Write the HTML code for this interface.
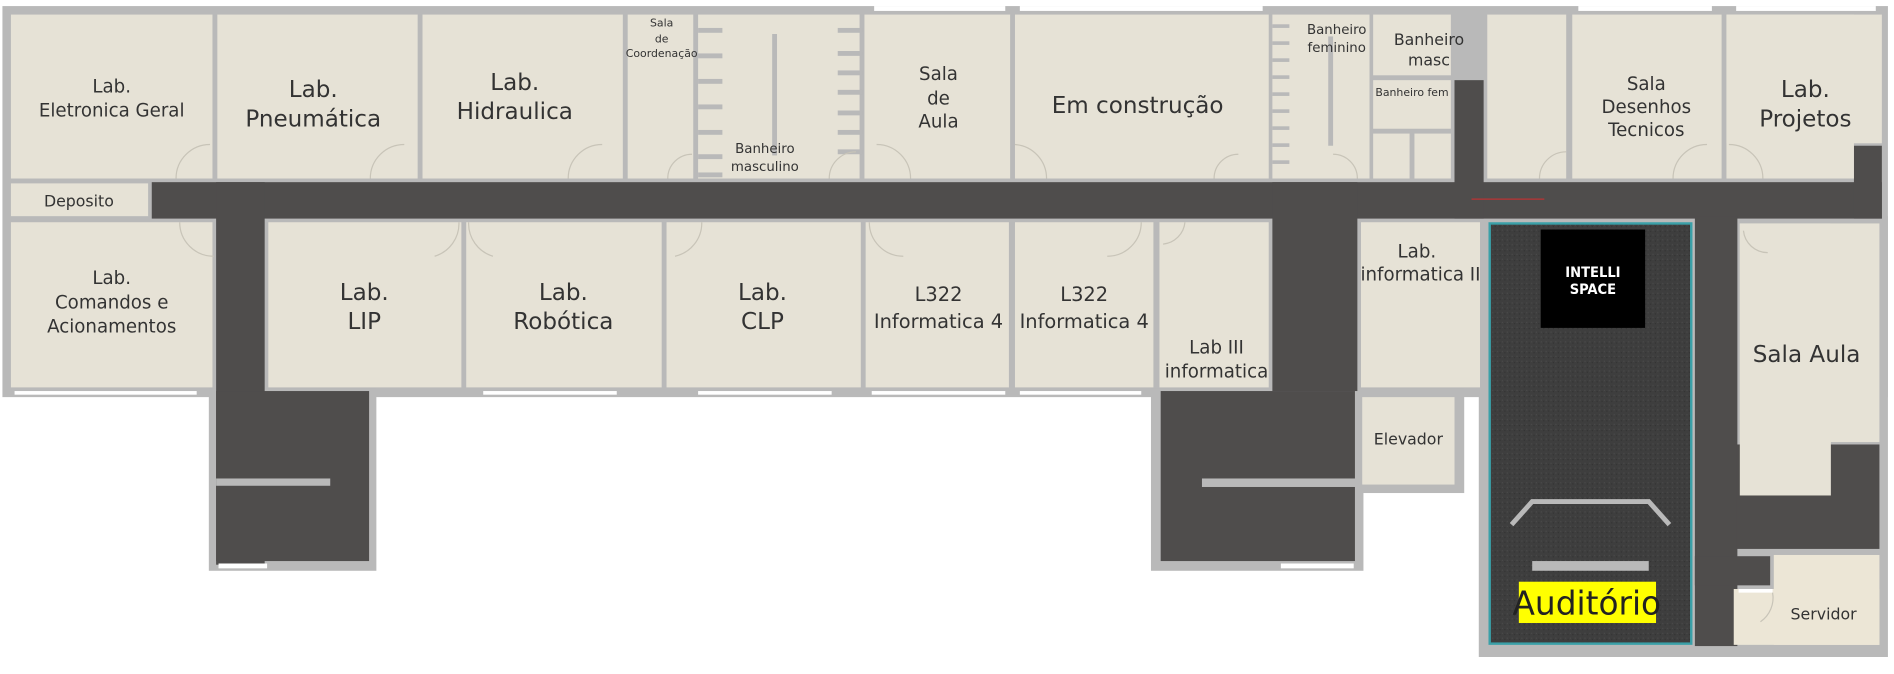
<!DOCTYPE html>
<html><head><meta charset="utf-8"><style>
html,body{margin:0;padding:0;background:#fff;width:1894px;height:674px;overflow:hidden}
svg{display:block}
text{font-family:"DejaVu Sans","Liberation Sans",sans-serif;fill:#333;text-anchor:middle}
</style></head><body>
<svg width="1894" height="674" viewBox="0 0 1560 555" preserveAspectRatio="none" xmlns="http://www.w3.org/2000/svg">
<defs>
<pattern id="carpet" width="4" height="4" patternUnits="userSpaceOnUse">
<rect width="4" height="4" fill="#3e3e3e"/><rect x="1" y="1" width="1" height="1" fill="#4a4a4a"/><rect x="3" y="2" width="1" height="1" fill="#333"/>
</pattern>
</defs>
<g fill="#b9b9b9">
<rect x="2" y="5" width="1553" height="322"/>
<rect x="172" y="320" width="138" height="150"/>
<rect x="948" y="320" width="175" height="150"/>
<rect x="1116" y="320" width="90" height="86"/>
<rect x="1218" y="178" width="337" height="363"/>
</g>
<g fill="#4f4d4c">
<rect x="125" y="150" width="1425" height="30"/>
<rect x="178" y="150" width="40" height="315"/>
<rect x="178" y="322" width="126" height="140"/>
<rect x="1048" y="150" width="70" height="172"/>
<rect x="956" y="322" width="160" height="140"/>
<rect x="1198" y="66" width="24" height="114"/>
<rect x="1527" y="120" width="23" height="60"/>
<rect x="1396" y="178" width="35" height="354"/>
<rect x="1430" y="366" width="118" height="86"/>
<rect x="1396" y="458" width="62" height="24"/>
</g>
<g fill="#e6e2d6">
<rect x="9" y="12" width="166" height="135"/>
<rect x="179" y="12" width="165" height="135"/>
<rect x="348" y="12" width="165" height="135"/>
<rect x="517" y="12" width="54" height="135"/>
<rect x="575" y="12" width="133" height="135"/>
<rect x="712" y="12" width="120" height="135"/>
<rect x="836" y="12" width="209" height="135"/>
<rect x="1048" y="12" width="80" height="135"/>
<rect x="1131" y="12" width="64" height="50"/>
<rect x="1131" y="66" width="64" height="40"/>
<rect x="1131" y="110" width="30" height="37"/>
<rect x="1165" y="110" width="30" height="37"/>
<rect x="1225" y="12" width="65" height="135"/>
<rect x="1295" y="12" width="123" height="135"/>
<rect x="1422" y="12" width="105" height="135"/>
<rect x="1422" y="12" width="128" height="106"/>
<rect x="9" y="151" width="113" height="27"/>
<rect x="9" y="183" width="166" height="136"/>
<rect x="221" y="183" width="159" height="136"/>
<rect x="384" y="183" width="161" height="136"/>
<rect x="549" y="183" width="160" height="136"/>
<rect x="713" y="183" width="118" height="136"/>
<rect x="836" y="183" width="114" height="136"/>
<rect x="955" y="183" width="90" height="136"/>
<rect x="1121" y="183" width="98" height="136"/>
<rect x="1122" y="327" width="76" height="72"/>
<rect x="1433" y="184" width="115" height="180"/>
<rect x="1433" y="184" width="75" height="224"/>
<rect x="1461" y="457" width="87" height="74" fill="#ece6d6"/>
<rect x="1428" y="485" width="120" height="46" fill="#ece6d6"/>
</g>
<g fill="#fff">
<rect x="720" y="5" width="108" height="4"/><rect x="840" y="5" width="200" height="4"/>
<rect x="1300" y="5" width="110" height="4"/><rect x="1430" y="5" width="115" height="4"/>
<rect x="12" y="322" width="150" height="3"/><rect x="398" y="322" width="110" height="3"/>
<rect x="575" y="322" width="110" height="3"/><rect x="718" y="322" width="110" height="3"/>
<rect x="840" y="322" width="100" height="3"/><rect x="180" y="464" width="40" height="4"/>
<rect x="1055" y="464" width="60" height="4"/>
<rect x="1432" y="485" width="28" height="3"/>
</g>
<g fill="#b9b9b9">
<rect x="178" y="394" width="94" height="6"/>
<rect x="990" y="394" width="128" height="7"/>
<rect x="636" y="28" width="4" height="100"/>
<rect x="1094" y="30" width="4" height="90"/>
</g>
<g fill="#b9b9b9">
<rect x="575" y="23" width="20" height="4"/><rect x="575" y="44" width="20" height="4"/><rect x="575" y="65" width="20" height="4"/><rect x="575" y="86" width="20" height="4"/><rect x="575" y="107" width="20" height="4"/><rect x="575" y="127" width="20" height="4"/><rect x="575" y="142" width="20" height="4"/>
<rect x="690" y="23" width="20" height="4"/><rect x="690" y="42" width="20" height="4"/><rect x="690" y="58" width="20" height="4"/><rect x="690" y="74" width="20" height="4"/><rect x="690" y="91" width="20" height="4"/><rect x="690" y="107" width="20" height="4"/><rect x="690" y="123" width="20" height="4"/>
<rect x="1048" y="20" width="14" height="3"/><rect x="1048" y="34" width="14" height="3"/><rect x="1048" y="48" width="14" height="3"/><rect x="1048" y="62" width="14" height="3"/><rect x="1048" y="76" width="14" height="3"/><rect x="1048" y="90" width="14" height="3"/><rect x="1048" y="104" width="14" height="3"/><rect x="1048" y="118" width="14" height="3"/><rect x="1048" y="132" width="14" height="3"/>
</g>
<g fill="none" stroke="#c8c4b8" stroke-width="1">
<path d="M145 147 A28 28 0 0 1 173 119"/><path d="M305 147 A28 28 0 0 1 333 119"/><path d="M468 147 A28 28 0 0 1 496 119"/>
<path d="M550 147 A20 20 0 0 1 570 127"/><path d="M683 147 A22 22 0 0 1 705 125"/><path d="M750 147 A28 28 0 0 0 722 119"/>
<path d="M862 147 A28 28 0 0 0 836 119"/><path d="M1000 147 A20 20 0 0 1 1020 127"/><path d="M1118 147 A20 20 0 0 0 1098 127"/>
<path d="M1268 147 A22 22 0 0 1 1290 125"/><path d="M1378 147 A28 28 0 0 1 1406 119"/><path d="M1452 147 A28 28 0 0 0 1424 119"/>
<path d="M148 183 A28 28 0 0 0 176 211"/><path d="M378 183 A28 28 0 0 1 358 211"/><path d="M386 183 A28 28 0 0 0 406 211"/>
<path d="M578 183 A28 28 0 0 1 556 211"/><path d="M716 183 A28 28 0 0 0 744 211"/><path d="M940 183 A28 28 0 0 1 912 211"/>
<path d="M976 183 A20 20 0 0 1 958 201"/><path d="M1436 190 A20 20 0 0 0 1456 208"/><path d="M1460 488 A24 24 0 0 1 1450 512"/>
</g>
<line x1="1212" y1="164" x2="1272" y2="164" stroke="#b33" stroke-width="1"/>
<rect x="1227" y="184" width="166" height="346" fill="url(#carpet)" stroke="#3aa0a8" stroke-width="2"/>
<rect x="1269" y="189" width="86" height="81" fill="#000"/>
<text x="1312" y="228" style="fill:#fff;font-weight:bold;font-size:12px;font-family:'DejaVu Sans Condensed','DejaVu Sans',sans-serif">INTELLI</text>
<text x="1312" y="242" style="fill:#fff;font-weight:bold;font-size:12px;font-family:'DejaVu Sans Condensed','DejaVu Sans',sans-serif">SPACE</text>
<polyline points="1245,432 1262,413 1358,413 1375,432" fill="none" stroke="#b9b9b9" stroke-width="4"/>
<rect x="1262" y="462" width="96" height="8" fill="#b9b9b9"/>
<rect x="1251" y="479" width="113" height="34" fill="#ffff00"/>
<text x="1307" y="506" style="font-size:27px;fill:#222">Auditório</text>
<g style="font-size:15px">
<text x="92" y="76">Lab.</text><text x="92" y="96">Eletronica Geral</text>
<text x="92" y="234">Lab.</text><text x="92" y="254">Comandos e</text><text x="92" y="274">Acionamentos</text>
<text x="773" y="66">Sala</text><text x="773" y="86">de</text><text x="773" y="105">Aula</text>
<text x="1356" y="74">Sala</text><text x="1356" y="93">Desenhos</text><text x="1356" y="112">Tecnicos</text>
<text x="1167" y="212">Lab.</text><text x="1170" y="231">informatica II</text>
<text x="1002" y="291">Lab III</text><text x="1002" y="311">informatica</text>
</g>
<g style="font-size:19px">
<text x="258" y="80">Lab.</text><text x="258" y="104">Pneumática</text>
<text x="424" y="74">Lab.</text><text x="424" y="98">Hidraulica</text>
<text x="937" y="93">Em construção</text>
<text x="1487" y="80">Lab.</text><text x="1487" y="104">Projetos</text>
<text x="300" y="247">Lab.</text><text x="300" y="271">LIP</text>
<text x="464" y="247">Lab.</text><text x="464" y="271">Robótica</text>
<text x="628" y="247">Lab.</text><text x="628" y="271">CLP</text>
<text x="1488" y="298">Sala Aula</text>
</g>
<g style="font-size:16px">
<text x="773" y="248">L322</text><text x="773" y="270">Informatica 4</text>
<text x="893" y="248">L322</text><text x="893" y="270">Informatica 4</text>
</g>
<g style="font-size:13px">
<text x="65" y="170">Deposito</text>
<text x="1160" y="366">Elevador</text>
<text x="1502" y="510">Servidor</text>
<text x="1177" y="37">Banheiro</text><text x="1177" y="54">masc</text>
</g>
<g style="font-size:11px">
<text x="630" y="126">Banheiro</text><text x="630" y="141">masculino</text>
<text x="1101" y="28">Banheiro</text><text x="1101" y="43">feminino</text>
</g>
<text x="1163" y="79" style="font-size:9px">Banheiro fem</text>
<g style="font-size:9px">
<text x="545" y="22">Sala</text><text x="545" y="35">de</text><text x="545" y="47">Coordenação</text>
</g>
</svg>
</body></html>
